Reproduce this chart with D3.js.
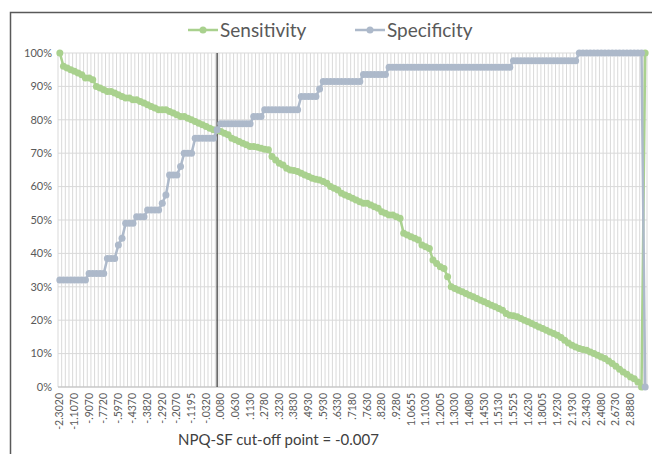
<!DOCTYPE html>
<html><head><meta charset="utf-8">
<script src="https://cdn.jsdelivr.net/npm/d3@7"></script>
<style>body{margin:0;background:#fff}svg{display:block}</style>
</head><body>
<script>
const sensitivity = [100,96,95.5,95,94.5,94,93.5,92.5,92.5,92,90,89.5,89,88.5,88.5,88,87.5,87,86.5,86.5,86,86,85.5,85,84.5,84,83.5,83,83,83,82.5,82,81.5,81,81,80.5,80,79.5,79,78.5,78,77.5,77,76.8,
76.5,76,75.5,74.5,74,73.5,73,72.5,72,72,71.8,71.5,71.2,71,69,68,67,66.5,65.5,65,64.8,64.5,64,63.5,63,62.5,62.2,62,61.5,61,60,59.5,59,58,57.5,57,56.5,56,55.5,55,55,54.5,54,53.5,52.5,52,51.5,51.5,51,50.5,
46,45.5,45,44.5,44,42.5,42,41.5,38,37,36,35.5,33,30,29.5,29,28.5,28,27.5,27,26.5,26,25.5,25,24.5,24,23.5,23,22,21.5,21.3,21,20.5,20,19.5,19,18.5,18,17.5,17,16.5,16,15.5,14.8,14,13.2,12.5,12,11.5,11.2,11,10.5,10,9.5,9,8.5,7.8,7,6.2,5.3,4.5,3.8,3,2.5,1.5,0,100];
const specificity = [32,32,32,32,32,32,32,32,34,34,34,34,34,38.5,38.5,38.5,42.5,44.5,49,49,49,51,51,51,53,53,53,53,55,57.5,63.5,63.5,63.5,66,70,70,70,74.5,74.5,74.5,74.5,74.5,74.5,77,
78.8,78.8,78.8,78.8,78.8,78.8,78.8,78.8,78.8,81,81,81,83,83,83,83,83,83,83,83,83,83,87,87,87,87,87,89.2,91.5,91.5,91.5,91.5,91.5,91.5,91.5,91.5,91.5,91.5,91.5,93.6,93.6,93.6,93.6,93.6,93.6,93.6,
95.7,95.7,95.7,95.7,95.7,95.7,95.7,95.7,95.7,95.7,95.7,95.7,95.7,95.7,95.7,95.7,95.7,95.7,95.7,95.7,95.7,95.7,95.7,95.7,95.7,95.7,95.7,95.7,95.7,95.7,95.7,95.7,95.7,95.7,
97.7,97.7,97.7,97.7,97.7,97.7,97.7,97.7,97.7,97.7,97.7,97.7,97.7,97.7,97.7,97.7,97.7,97.7,
100,100,100,100,100,100,100,100,100,100,100,100,100,100,100,100,100,100,0];
const tickLabels = ["-2.3020","-1.1070","-.9070","-.7720","-.5970","-.4370","-.3820","-.2920","-.2070","-.1195","-.0320",".0080",".0630",".1130",".2780",".3230",".3830",".4930",".5930",".6330",".7180",".7630",".8280",".9280","1.0655","1.1030","1.2005","1.3030","1.4080","1.4530","1.5130","1.5525","1.6230","1.8005","1.9230","2.1930","2.3430","2.4080","2.6730","2.8880"];
const labelEvery = 4;
const yTicks = [0,10,20,30,40,50,60,70,80,90,100];
const cutoffIndex = 43;
const caption = "NPQ-SF cut-off point = -0.007";
const seriesNames = ["Sensitivity","Specificity"];
const colors = ["#a9d18e","#adb9ca"];

const W = 652, H = 454;
const n = Math.max(sensitivity.length, specificity.length);
const idx = d3.range(n);
const m = {left:58, right:5, top:53, bottom:67};
const svg = d3.select("body").append("svg").attr("width",W).attr("height",H);

svg.append("rect").attr("x",10.5).attr("y",12.5).attr("width",W).attr("height",H)
  .attr("fill","#fff").attr("stroke","#595959").attr("stroke-width",1.5);

const x = d3.scaleBand().domain(idx).range([m.left, W - m.right]);
const cx = i => x(i) + x.bandwidth()/2;
const y = d3.scaleLinear().domain([0,100]).range([H - m.bottom, m.top]);

const g = svg.append("g");
// vertical gridlines at category boundaries
g.selectAll("line.vg").data(d3.range(n+1)).join("line")
  .attr("x1", i => m.left + i*x.bandwidth()).attr("x2", i => m.left + i*x.bandwidth())
  .attr("y1", y(0)).attr("y2", y(100)).attr("stroke","#d9d9d9").attr("stroke-width",1);
// horizontal grid
g.selectAll("line.hg").data(yTicks).join("line")
  .attr("x1", m.left).attr("x2", W - m.right).attr("y1", d=>y(d)).attr("y2", d=>y(d))
  .attr("stroke","#d9d9d9").attr("stroke-width",1);
// axis line
g.append("line").attr("x1",m.left).attr("x2",W-m.right).attr("y1",y(0)).attr("y2",y(0)).attr("stroke","#bfbfbf");

// y labels
svg.selectAll("text.yl").data(yTicks).join("text")
  .attr("x", 52).attr("y", d=>y(d)).attr("dy","0.35em").attr("text-anchor","end")
  .attr("font-family","Lato, 'Open Sans', sans-serif").attr("font-size",11).attr("fill","#595959")
  .text(d=>d+"%");

// x labels
svg.selectAll("text.xl").data(tickLabels).join("text")
  .attr("transform",(d,k)=>`translate(${cx(k*labelEvery)+3.5},${y(0)+6}) rotate(-90)`)
  .attr("text-anchor","end")
  .attr("font-family","Lato, 'Open Sans', sans-serif").attr("font-size",10.5).attr("fill","#595959")
  .text(d=>d);

// cutoff line
svg.append("line").attr("x1",cx(cutoffIndex)).attr("x2",cx(cutoffIndex)).attr("y1",y(0)).attr("y2",y(100))
  .attr("stroke","#595959").attr("stroke-width",1.5);

const series = [sensitivity, specificity];
series.forEach((s,si)=>{
  const line = d3.line().x((d,i)=>cx(i)).y(d=>y(d));
  svg.append("path").attr("d", line(s)).attr("fill","none").attr("stroke",colors[si]).attr("stroke-width",2.5);
  svg.append("g").selectAll("circle").data(s).join("circle")
    .attr("cx",(d,i)=>cx(i)).attr("cy",d=>y(d)).attr("r",3.5).attr("fill",colors[si]);
});
// redraw sensitivity on top? keep order as reference (specificity on top)

// legend
const legX = [188, 355];
seriesNames.forEach((name,i)=>{
  const lg = svg.append("g").attr("transform",`translate(${legX[i]},30)`);
  lg.append("line").attr("x1",0).attr("x2",30).attr("stroke",colors[i]).attr("stroke-width",2.5);
  lg.append("circle").attr("cx",15).attr("r",3.5).attr("fill",colors[i]);
  lg.append("text").attr("x",32).attr("dy","0.35em").attr("font-family","Lato, 'Open Sans', sans-serif")
    .attr("font-size",19).attr("fill","#595959").text(name);
});

svg.append("text").attr("x",178).attr("y",440).attr("dy","0.35em")
  .attr("font-family","Lato, 'Open Sans', sans-serif").attr("font-size",15).attr("fill","#404040")
  .text(caption);
</script>
</body></html>
